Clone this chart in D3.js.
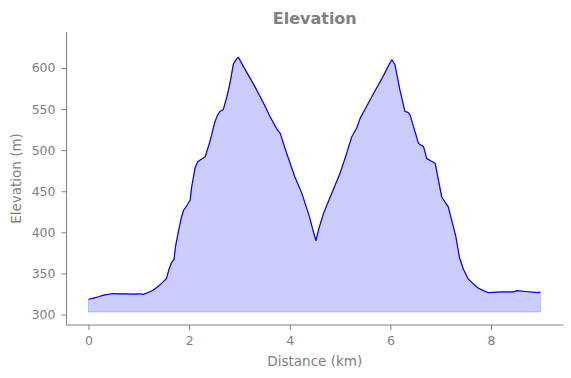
<!DOCTYPE html>
<html>
<head>
<meta charset="utf-8">
<script src="https://cdn.jsdelivr.net/npm/d3@7"></script>
<style>
  body { margin: 0; background: #fff; }
  svg text { font-family: "DejaVu Sans", sans-serif; fill: #808080; }
</style>
</head>
<body>
<div id="chart"></div>
<script>
// distance along the route (km) and elevation (m)
const distance = [0.00, 0.10, 0.20, 0.30, 0.49, 0.60, 0.73, 0.92, 1.00, 1.09, 1.20, 1.29, 1.42, 1.52,
  1.55, 1.60, 1.65, 1.70, 1.73, 1.79, 1.85, 1.89, 1.95, 2.02, 2.05, 2.12, 2.17, 2.22, 2.32, 2.38,
  2.42, 2.51, 2.56, 2.61, 2.68, 2.75, 2.81, 2.88, 2.95, 2.98, 3.05, 3.18, 3.31, 3.48, 3.61, 3.75,
  3.81, 3.94, 4.10, 4.24, 4.37, 4.40, 4.45, 4.52, 4.58, 4.67, 4.83, 5.00, 5.13, 5.23, 5.33, 5.40,
  5.56, 5.70, 5.83, 5.98, 6.03, 6.09, 6.19, 6.29, 6.35, 6.39, 6.56, 6.66, 6.72, 6.80, 6.89, 7.02,
  7.15, 7.25, 7.30, 7.37, 7.45, 7.55, 7.65, 7.75, 7.85, 7.95, 8.21, 8.45, 8.51, 8.68, 8.94, 8.98];
const elevation = [318.5, 320, 321.6, 323.5, 325.5, 325, 325, 324.8, 325.2, 324.5, 327, 329.8, 336, 342,
  344, 355, 363, 367, 383, 402, 419, 427, 432, 439, 455, 479, 486, 488, 492, 504,
  512, 534, 542, 547, 549.6, 565, 581, 605, 611.7, 613, 605, 591, 577, 557, 540.6, 525,
  520.4, 496, 467.6, 447.4, 423, 417, 405, 390, 405, 423, 447, 472, 496, 516, 527, 539,
  557, 573, 587, 605, 610, 604, 573, 547, 546, 543, 508, 504, 490, 487, 484, 443,
  431, 407, 395, 370, 355, 343, 337, 332, 329, 326.5, 327.4, 327.4, 329, 328, 326.5, 327.5];
const fillBase = 303;
const xTicks = [0, 2, 4, 6, 8];
const yTicks = [300, 350, 400, 450, 500, 550, 600];

const width = 571, height = 378;
const mLeft = 66.5, mRight = 563, mTop = 32, mBottom = 325;

const svg = d3.select("#chart").append("svg")
  .attr("width", width)
  .attr("height", height);

const x = d3.scaleLinear().domain([-0.437, 9.43]).range([mLeft, mRight]);
const y = d3.scaleLinear().domain([287.2, 643.8]).range([mBottom, mTop]);

const pts = distance.map((d, i) => [d, elevation[i]]);

// filled area under the profile
svg.append("path")
  .datum(pts)
  .attr("d", d3.area().x(d => x(d[0])).y0(y(fillBase)).y1(d => y(d[1])))
  .attr("fill", "#0000ff")
  .attr("fill-opacity", 0.2)
  .attr("stroke", "#0000ff")
  .attr("stroke-opacity", 0.2)
  .attr("stroke-width", 1);

svg.append("path")
  .datum(pts)
  .attr("d", d3.line().x(d => x(d[0])).y(d => y(d[1])))
  .attr("fill", "none")
  .attr("stroke", "#0000ff")
  .attr("stroke-width", 1.2)
  .attr("stroke-linejoin", "round");

// axes
const gx = svg.append("g")
  .attr("transform", `translate(0,${mBottom})`)
  .call(d3.axisBottom(x).tickValues(xTicks).tickSize(5).tickSizeOuter(0).tickPadding(6));
const gy = svg.append("g")
  .attr("transform", `translate(${mLeft},0)`)
  .call(d3.axisLeft(y).tickValues(yTicks).tickSize(5).tickSizeOuter(0).tickPadding(6));

[gx, gy].forEach(g => {
  g.selectAll("path, line").attr("stroke", "#808080").attr("stroke-width", 1);
  g.selectAll("text").attr("font-size", 12.5).attr("fill", "#808080");
});
gx.select(".domain").attr("d", `M${mLeft},0H${mRight}`);
gy.select(".domain").attr("d", `M0,${mTop}V${mBottom}`);

svg.append("text")
  .attr("x", (mLeft + mRight) / 2)
  .attr("y", 24)
  .attr("text-anchor", "middle")
  .attr("font-size", 16)
  .attr("font-weight", "bold")
  .text("Elevation");

svg.append("text")
  .attr("x", (mLeft + mRight) / 2)
  .attr("y", 366)
  .attr("text-anchor", "middle")
  .attr("font-size", 13.5)
  .text("Distance (km)");

svg.append("text")
  .attr("transform", `translate(21,${(mTop + mBottom) / 2}) rotate(-90)`)
  .attr("text-anchor", "middle")
  .attr("font-size", 13.5)
  .text("Elevation (m)");
</script>
</body>
</html>
